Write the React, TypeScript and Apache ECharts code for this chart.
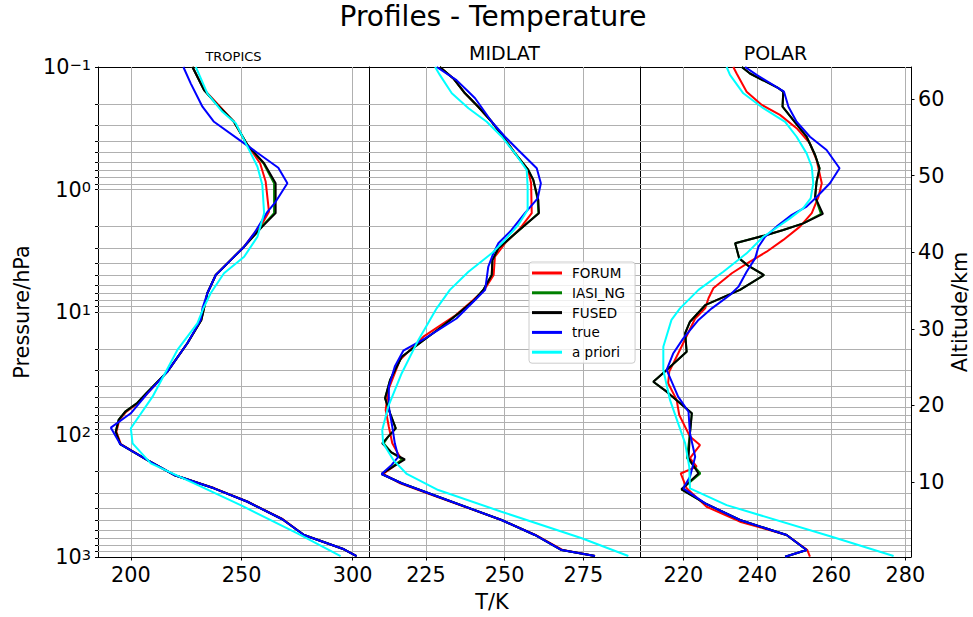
import React, { useEffect, useRef } from 'react';
import * as echarts from 'echarts';

const FONT = 'DejaVu Sans';

const panelTitles = ['TROPICS', 'MIDLAT', 'POLAR'];
const seriesNames = ['FORUM', 'IASI_NG', 'FUSED', 'true', 'a priori'];
const seriesColors = ['#ff0000', '#008000', '#000000', '#0000ff', '#00ffff'];

const xTicks = [[200, 250, 300], [225, 250, 275], [220, 240, 260, 280]];
const xRanges = [[185.2, 307.4], [206.9, 293.0], [208.3, 281.5]];
const pressureTicks = [0.1, 1, 10, 100, 1000];
const pressureMinorTicks = [
  0.2, 0.3, 0.4, 0.5, 0.6, 0.7, 0.8, 0.9,
  2, 3, 4, 5, 6, 7, 8, 9,
  20, 30, 40, 50, 60, 70, 80, 90,
  200, 300, 400, 500, 600, 700, 800, 900,
];
const pressureGridLines = [1, 10, 100, ...pressureMinorTicks];
const altitudeTicks = [10, 20, 30, 40, 50, 60];
const altitudeRange = [0.2, 64.2];

// [temperature K, pressure hPa]
const tropicsForum = [[227.8,0.1],[233.2,0.154],[239.5,0.204],[246.5,0.28],[252.6,0.433],[258.3,0.611],[260.8,0.86],[262.3,1.52],[258.5,2.0],[255.6,2.28],[251.1,2.93],[245.0,3.77],[238.3,4.99],[234.5,7.03],[233.0,9.34],[231.8,11.6],[225.5,18.0],[216.5,30.7],[207.5,46.1],[203.5,55],[198.0,65],[194.8,76],[193.5,95],[195.5,119.7],[207.5,161.6],[219.5,214],[237.8,275],[252.8,354],[268.6,492],[278.1,661],[296.1,865],[301.8,982]];
const tropicsIasi = [[227.8,0.1],[233.0,0.154],[239.0,0.204],[246.5,0.28],[252.6,0.433],[259.8,0.611],[264.6,0.89],[264.6,1.56],[259.0,2.01],[251.1,2.93],[245.0,3.77],[238.3,4.99],[234.5,7.03],[233.0,9.34],[231.8,11.6],[225.5,18.0],[216.5,30.7],[207.0,46.1],[203.0,55],[197.5,65],[194.5,76],[193.2,95],[195.2,119.7],[207.5,161.6],[219.5,214],[237.5,275],[252.6,354],[268.3,492],[278.1,661],[296.1,865],[301.8,982]];
const tropicsFused = [[227.8,0.1],[233.0,0.154],[239.0,0.204],[246.5,0.28],[252.6,0.433],[260.1,0.611],[265.3,0.89],[265.3,1.56],[259.3,2.01],[251.1,2.93],[245.0,3.77],[238.3,4.99],[234.5,7.03],[233.0,9.34],[231.8,11.6],[225.5,18.0],[216.5,30.7],[207.0,46.1],[203.0,55],[197.5,65],[194.5,76],[193.2,95],[195.2,119.7],[207.5,161.6],[219.5,214],[237.5,275],[252.6,354],[268.3,492],[278.1,661],[296.1,865],[301.8,982]];
const tropicsTrue = [[223.7,0.1],[227.0,0.136],[232.3,0.211],[237.5,0.28],[251.1,0.42],[266.5,0.664],[270.6,0.89],[265.3,1.26],[261.6,1.52],[255.6,2.28],[251.1,2.93],[245.0,3.77],[238.3,4.99],[234.5,7.03],[232.3,9.34],[231.5,11.6],[225.5,18.0],[216.5,30.7],[207.5,46.1],[200.0,67.1],[191.0,87.9],[195.2,119.7],[207.5,161.6],[219.5,214],[237.5,275],[252.6,354],[268.3,492],[278.1,661],[296.1,865],[301.8,982]];
const tropicsApriori = [[229.3,0.1],[234.5,0.164],[241.3,0.232],[247.3,0.288],[252.6,0.447],[257.1,0.652],[259.3,0.918],[260.1,1.56],[257.1,2.43],[251.1,3.54],[242.0,4.83],[236.0,7.03],[232.7,9.34],[230.0,12.4],[221.0,20.4],[209.8,49.1],[200.0,89],[200.8,118],[209.0,172],[230.0,258],[249.5,377],[275.1,641],[294.6,982]];

const midlatForum = [[229.4,0.1],[233.7,0.124],[237.4,0.164],[241.6,0.211],[245.9,0.28],[249.1,0.359],[253.3,0.507],[257.5,0.693],[258.4,0.89],[258.6,1.56],[254.9,2.08],[250.1,2.75],[246.9,3.54],[246.5,4.99],[243.5,6.6],[240.0,7.98],[234.5,10.6],[224.2,15.9],[216.7,24.7],[213.0,43.4],[212.2,63.1],[213.2,86.4],[214.3,118],[216.2,144],[217.3,161],[214.6,183],[211.4,210],[216.8,250],[228.5,322],[249.0,499],[259.8,661],[268.5,877],[278.7,982]];
const midlatIasi = [[229.4,0.1],[233.7,0.124],[237.4,0.164],[241.6,0.211],[245.9,0.28],[249.1,0.359],[253.3,0.507],[257.5,0.693],[259.1,0.835],[260.5,1.22],[260.7,1.56],[256.5,1.95],[252.2,2.43],[248.0,3.02],[246.1,3.77],[245.9,4.99],[243.2,6.6],[240.4,7.98],[235.3,10.3],[230.0,13.2],[223.6,17.5],[217.3,23.2],[213.6,35.9],[212.0,50.6],[213.6,67.1],[215.4,89],[213.0,104],[211.6,118],[214.0,140],[217.5,160],[210.9,210],[217.3,250],[228.9,322],[249.0,499],[259.6,661],[268.1,877],[278.7,982]];
const midlatFused = [[229.4,0.1],[233.7,0.124],[237.4,0.164],[241.6,0.211],[245.9,0.28],[249.1,0.359],[253.3,0.507],[257.5,0.693],[259.1,0.835],[260.7,1.22],[260.9,1.56],[256.5,1.95],[252.2,2.43],[248.0,3.02],[246.1,3.77],[245.9,4.99],[243.2,6.6],[240.4,7.98],[235.3,10.3],[230.0,13.2],[223.6,17.5],[217.3,23.2],[213.6,35.9],[212.0,50.6],[213.6,67.1],[215.4,89],[213.0,104],[211.1,118],[214.0,140],[218.3,160],[210.9,210],[217.3,250],[228.9,322],[249.0,499],[259.6,661],[268.1,877],[278.7,982]];
const midlatTrue = [[228.4,0.1],[234.7,0.128],[238.5,0.159],[240.6,0.18],[245.9,0.28],[250.1,0.371],[254.3,0.476],[260.2,0.671],[261.5,0.89],[260.5,1.18],[256.5,1.55],[252.2,2.14],[248.0,2.75],[246.4,3.32],[244.8,4.27],[243.8,6.6],[240.6,7.98],[234.7,11.3],[224.2,16.7],[217.8,20.7],[215.1,27.9],[213.2,40.7],[213.2,59.3],[214.3,86.4],[215.1,118],[216.2,152],[214.1,177],[210.9,210],[217.3,250],[228.9,322],[249.0,499],[259.6,661],[268.1,877],[278.7,982]];
const midlatApriori = [[227.9,0.1],[229.4,0.116],[233.2,0.164],[238.5,0.217],[244.3,0.28],[249.1,0.371],[253.3,0.507],[257.0,0.693],[257.3,0.95],[257.3,1.47],[254.3,1.95],[250.1,2.58],[245.9,3.32],[238.5,4.69],[232.6,6.6],[228.4,9.34],[222.6,16.9],[217.3,31.6],[213.0,59.3],[211.1,91.9],[211.4,118],[214.6,161],[218.9,210],[228.9,284],[249.0,427],[274.5,703],[289.3,982]];

const polarForum = [[233.5,0.1],[234.4,0.113],[237.1,0.159],[241.2,0.204],[246.1,0.246],[250.6,0.316],[254.2,0.42],[256.0,0.575],[257.4,0.89],[256.5,1.15],[254.7,1.56],[251.5,2.01],[247.0,2.58],[242.5,3.22],[238.0,3.88],[233.1,4.83],[228.1,6.41],[226.8,7.72],[225.9,9.34],[223.2,11.3],[219.5,19.2],[216.2,30.7],[215.9,38.2],[218.2,52.2],[218.9,69.3],[221.8,104],[224.5,122],[221.8,156],[223.6,183],[219.3,208],[220.9,275],[226.3,389],[235.3,515],[247.9,661],[253.5,877],[254.2,994]];
const polarIasi = [[235.8,0.1],[238.0,0.113],[245.7,0.149],[247.0,0.159],[246.8,0.211],[249.7,0.271],[253.3,0.371],[255.6,0.523],[256.8,0.671],[256.0,0.863],[255.6,1.15],[257.2,1.58],[252.4,1.89],[247.0,2.14],[242.5,2.35],[234.0,2.75],[235.1,3.65],[237.6,4.21],[241.8,4.99],[235.3,6.6],[225.9,8.8],[221.8,12.0],[220.5,14.9],[220.9,21.1],[215.5,29.7],[211.9,37.1],[215.5,44.7],[222.3,67.1],[221.8,97.7],[221.0,156],[224.6,208],[219.5,280],[225.9,365],[235.3,499],[247.9,661],[253.3,877],[247.5,994]];
const polarFused = [[235.8,0.1],[238.0,0.113],[245.7,0.149],[247.0,0.159],[246.8,0.211],[249.7,0.271],[253.3,0.371],[255.6,0.523],[256.8,0.671],[256.0,0.863],[255.6,1.15],[257.7,1.58],[252.4,1.89],[247.0,2.14],[242.5,2.35],[234.0,2.75],[235.1,3.65],[237.6,4.21],[241.8,4.99],[235.3,6.6],[225.9,8.8],[221.8,12.0],[220.5,14.9],[220.9,21.1],[215.5,29.7],[211.9,37.1],[215.5,44.7],[222.3,67.1],[221.8,97.7],[221.4,156],[224.1,208],[219.5,280],[225.9,365],[235.3,499],[247.9,661],[253.3,877],[247.5,994]];
const polarTrue = [[236.7,0.1],[239.8,0.116],[247.2,0.159],[248.4,0.211],[250.6,0.28],[254.2,0.371],[258.7,0.476],[262.2,0.671],[259.6,0.89],[256.0,1.15],[253.3,1.38],[249.3,1.61],[245.2,2.01],[242.1,2.43],[240.3,2.93],[239.4,3.65],[237.1,4.69],[234.9,6.21],[232.6,7.26],[227.7,9.34],[224.1,11.6],[220.0,16.4],[217.3,21.7],[215.5,29.7],[218.6,49.1],[221.4,65.2],[221.8,97.7],[223.2,152],[221.8,221],[220.0,275],[225.9,365],[235.3,499],[247.9,661],[253.3,877],[247.5,994]];
const polarApriori = [[231.7,0.1],[232.6,0.116],[236.2,0.164],[241.6,0.217],[247.5,0.28],[250.6,0.371],[253.3,0.507],[254.7,0.652],[255.1,0.89],[254.4,1.18],[252.4,1.42],[248.8,1.72],[244.3,2.14],[241.6,2.43],[237.1,3.32],[230.8,4.69],[224.1,6.6],[219.1,9.34],[216.8,11.6],[214.6,19.2],[214.6,29.7],[216.4,52.2],[218.6,81.2],[220.5,118],[221.6,183],[221.8,275],[231.7,377],[260.1,683],[276.8,982]];

const panelData = [
  [tropicsForum, tropicsIasi, tropicsFused, tropicsTrue, tropicsApriori],
  [midlatForum, midlatIasi, midlatFused, midlatTrue, midlatApriori],
  [polarForum, polarIasi, polarFused, polarTrue, polarApriori],
];

const GRID_LEFT = 98;
const GRID_W = 271;
const GRID_TOP = 67;
const GRID_H = 490;

function supLabel(v: number) {
  const e = Math.round(Math.log10(v));
  const s = e < 0 ? '\u2212' + String(-e) : String(e);
  return '{b|10}{s|' + s + '}';
}

const spine = { show: true, onZero: false, lineStyle: { color: '#000', width: 1 } };

function buildOption(): any {
  const grids = [0, 1, 2].map((i) => ({
    left: GRID_LEFT + i * GRID_W,
    top: GRID_TOP,
    width: GRID_W,
    height: GRID_H,
    show: false,
    containLabel: false,
  }));

  const xAxes: any[] = [0, 1, 2].map((i) => ({
    type: 'value',
    gridIndex: i,
    position: 'bottom',
    min: xRanges[i][0],
    max: xRanges[i][1],
    axisLine: spine,
    axisTick: { show: true, length: 3.5, lineStyle: { color: '#000', width: 1 }, customValues: xTicks[i] },
    axisLabel: { show: true, customValues: xTicks[i], fontSize: 20.8, fontFamily: FONT, color: '#000', margin: 7 },
    splitLine: { show: false },
  }));
  // top spines
  [0, 1, 2].forEach((i) => {
    xAxes.push({
      type: 'value',
      gridIndex: i,
      position: 'top',
      min: xRanges[i][0],
      max: xRanges[i][1],
      axisLine: spine,
      axisTick: { show: false },
      axisLabel: { show: false },
      splitLine: { show: false },
    });
  });

  const yAxes: any[] = [0, 1, 2].map((i) => ({
    type: 'log',
    logBase: 10,
    gridIndex: i,
    min: 0.1,
    max: 1000,
    inverse: true,
    position: 'left',
    axisLine: spine,
    axisTick: { show: true, length: 3, lineStyle: { color: '#000', width: 1 }, customValues: [...pressureTicks, ...pressureMinorTicks] },
    axisLabel: {
      show: i === 0,
      customValues: pressureTicks,
      formatter: (v: number) => supLabel(v),
      margin: 7,
      color: '#000',
      rich: {
        b: { fontSize: 20.8, fontFamily: FONT, color: '#000' },
        s: { fontSize: 14.6, fontFamily: FONT, color: '#000', verticalAlign: 'top' },
      },
    },
    splitLine: { show: false },
  }));
  yAxes.push({
    type: 'value',
    gridIndex: 2,
    position: 'right',
    min: altitudeRange[0],
    max: altitudeRange[1],
    axisLine: spine,
    axisTick: { show: true, length: 3.5, lineStyle: { color: '#000', width: 1 }, customValues: altitudeTicks },
    axisLabel: { show: true, customValues: altitudeTicks, fontSize: 20.8, fontFamily: FONT, color: '#000', margin: 7 },
    splitLine: { show: false },
  });

  const series: any[] = [];
  [0, 1, 2].forEach((i) => {
    series.push({
      type: 'line',
      name: 'gridlines' + i,
      xAxisIndex: i,
      yAxisIndex: i,
      data: [],
      silent: true,
      markLine: {
        silent: true,
        z: 1,
        symbol: ['none', 'none'],
        label: { show: false },
        emphasis: { disabled: true },
        lineStyle: { color: '#b0b0b0', width: 1, type: 'solid' },
        data: [
          ...pressureGridLines.map((v) => ({ yAxis: v })),
          ...xTicks[i].map((v) => ({ xAxis: v })),
        ],
      },
    });
    seriesNames.forEach((name, k) => {
      series.push({
        type: 'line',
        name,
        xAxisIndex: i,
        yAxisIndex: i,
        data: panelData[i][k],
        showSymbol: false,
        symbol: 'none',
        color: seriesColors[k],
        lineStyle: { color: seriesColors[k], width: 2 },
        itemStyle: { color: seriesColors[k] },
        emphasis: { disabled: true },
        silent: true,
        z: 2,
      });
    });
  });

  const txt = (text: string, x: number, y: number, size: number, rotation = 0) => ({
    type: 'text',
    x,
    y,
    rotation,
    silent: true,
    style: {
      text,
      fill: '#000',
      fontSize: size,
      fontFamily: FONT,
      align: 'center',
      verticalAlign: 'middle',
      textAlign: 'center',
      textVerticalAlign: 'middle',
    },
  });

  const graphic = [
    txt('Profiles - Temperature', 493, 16.5, 28),
    txt(panelTitles[0], GRID_LEFT + GRID_W * 0.5, 56, 13),
    txt(panelTitles[1], GRID_LEFT + GRID_W * 1.5, 53.3, 19),
    txt(panelTitles[2], GRID_LEFT + GRID_W * 2.5, 53.3, 19),
    txt('T/K', 492, 601.7, 20.8),
    txt('Pressure/hPa', 22, 312, 20.8, Math.PI / 2),
    txt('Altitude/km', 960, 312, 20.8, Math.PI / 2),
  ];

  return {
    animation: false,
    backgroundColor: '#fff',
    grid: grids,
    xAxis: xAxes,
    yAxis: yAxes,
    series,
    graphic,
    legend: {
      show: true,
      data: seriesNames,
      orient: 'vertical',
      left: 529,
      top: 262,
      icon: 'rect',
      itemWidth: 30,
      itemHeight: 3,
      itemGap: 5.8,
      selectedMode: false,
      padding: [4, 10, 4, 3],
      backgroundColor: 'rgba(255,255,255,0.8)',
      borderColor: '#cccccc',
      borderWidth: 1,
      borderRadius: 3,
      textStyle: { fontSize: 13.5, fontFamily: FONT, color: '#000', padding: [0, 0, 0, 5] },
    },
  };
}

export default function App() {
  const ref = useRef<HTMLDivElement>(null);
  useEffect(() => {
    if (!ref.current) return;
    const chart = echarts.init(ref.current, null, { renderer: 'svg' });
    chart.setOption(buildOption());
    return () => chart.dispose();
  }, []);
  return (
    <div
      ref={ref}
      style={{ position: 'absolute', left: 0, top: 0, width: 973, height: 617 }}
    />
  );
}
